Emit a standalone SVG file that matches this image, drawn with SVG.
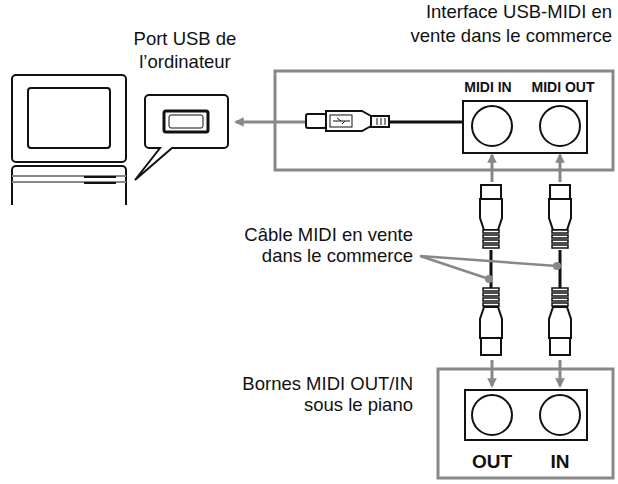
<svg xmlns="http://www.w3.org/2000/svg" width="618" height="484" viewBox="0 0 618 484">
<defs>
<style>
.t{font-family:"Liberation Sans",Arial,sans-serif;font-size:18.5px;fill:#111}
.b{font-family:"Liberation Sans",Arial,sans-serif;font-size:14px;font-weight:bold;fill:#111;text-anchor:middle}
.k{fill:#fff;stroke:#111;stroke-width:2}
.ga{fill:none;stroke:#888;stroke-width:3;marker-end:url(#ah)}
</style>
<marker id="ah" viewBox="0 0 10 10" refX="8" refY="5" markerWidth="3.2" markerHeight="3.2" orient="auto"><path d="M0,0L10,5L0,10z" fill="#888"/></marker>
<g id="rid"><rect x="-8" y="0" width="16" height="3" fill="#fff" stroke="#111" stroke-width="1.5"/></g>
</defs>
<text class="t" x="185" y="45" text-anchor="middle">Port USB de</text>
<text class="t" x="185" y="68" text-anchor="middle">l’ordinateur</text>
<text class="t" x="612" y="18" text-anchor="end">Interface USB-MIDI en</text>
<text class="t" x="612" y="42" text-anchor="end">vente dans le commerce</text>
<text class="t" x="413" y="241" text-anchor="end">Câble MIDI en vente</text>
<text class="t" x="413" y="262" text-anchor="end">dans le commerce</text>
<text class="t" x="413" y="390" text-anchor="end">Bornes MIDI OUT/IN</text>
<text class="t" x="413" y="411" text-anchor="end">sous le piano</text>
<g id="computer">
<rect class="k" x="12" y="75" width="114" height="87" rx="4"/>
<rect class="k" x="28" y="88" width="82" height="60" rx="3"/>
<path class="k" d="M12,205V170a4,4 0 0 1 4,-4H122a4,4 0 0 1 4,4V205"/>
<line x1="12" y1="176" x2="126" y2="176" stroke="#888" stroke-width="2"/>
<line x1="12" y1="182" x2="126" y2="182" stroke="#888" stroke-width="2"/>
<line x1="84" y1="177" x2="116" y2="177" stroke="#111" stroke-width="2"/>
<line x1="84" y1="183" x2="116" y2="183" stroke="#111" stroke-width="2"/>
</g>
<g id="callout">
<path class="k" d="M149,95H224a4,4 0 0 1 4,4V144a4,4 0 0 1 -4,4H172L135,180L160,148H149a4,4 0 0 1 -4,-4V99a4,4 0 0 1 4,-4z"/>
<rect x="164" y="111" width="44" height="21" rx="2" fill="#fff" stroke="#111" stroke-width="3"/>
<rect x="169" y="115" width="34" height="13" rx="2" fill="#fff" stroke="#111" stroke-width="1"/>
</g>
<g id="interface">
<rect x="275" y="71" width="338" height="99" fill="#fff" stroke="#888" stroke-width="3"/>
<rect class="k" x="463" y="101" width="124" height="52"/>
<circle class="k" cx="492" cy="126" r="20"/>
<circle class="k" cx="560" cy="126" r="20"/>
<text class="b" x="488" y="92">MIDI IN</text>
<text class="b" x="563" y="92">MIDI OUT</text>
<line x1="388" y1="122" x2="463" y2="122" stroke="#111" stroke-width="3"/>
<rect class="k" x="306" y="114" width="20" height="14" rx="2" stroke-width="1.5"/>
<path class="k" d="M326,111H362L371,116V126L362,131H326z" stroke-width="1.5"/>
<rect x="330" y="115" width="22" height="12" fill="#fff" stroke="#111" stroke-width="1"/>
<path d="M333,121H350M337,118L341,121M342,124L345,121" stroke="#111" stroke-width="1" fill="none"/>
<rect class="k" x="371" y="116" width="18" height="11" stroke-width="1.5"/>
<path d="M377,118V125M381,118V125M385,118V125" stroke="#111" stroke-width="1"/>
</g>
<g id="piano">
<rect x="438" y="369" width="175" height="109" fill="#fff" stroke="#888" stroke-width="3"/>
<rect class="k" x="465" y="390" width="122" height="50"/>
<circle class="k" cx="492" cy="415" r="20"/>
<circle class="k" cx="560" cy="415" r="20"/>
<text class="b" x="492" y="468" style="font-size:19px">OUT</text>
<text class="b" x="560" y="468" style="font-size:19px">IN</text>
</g>
<g id="cable1">
<line x1="491" y1="250" x2="491" y2="290" stroke="#111" stroke-width="3"/>
<rect class="k" x="481" y="185" width="20" height="14"/>
<path class="k" d="M480,199H502V218L498,230H484L480,218z"/>
<use href="#rid" x="491" y="230"/><use href="#rid" x="491" y="235"/><use href="#rid" x="491" y="240"/><use href="#rid" x="491" y="245"/>
<use href="#rid" x="491" y="288"/><use href="#rid" x="491" y="293"/><use href="#rid" x="491" y="298"/><use href="#rid" x="491" y="303"/>
<path class="k" d="M484,307H498L502,319V338H480V319z"/>
<rect class="k" x="481" y="338" width="20" height="17"/>
</g>
<g id="cable2">
<line x1="560" y1="250" x2="560" y2="290" stroke="#111" stroke-width="3"/>
<rect class="k" x="550" y="185" width="20" height="14"/>
<path class="k" d="M549,199H571V218L567,230H553L549,218z"/>
<use href="#rid" x="560" y="230"/><use href="#rid" x="560" y="235"/><use href="#rid" x="560" y="240"/><use href="#rid" x="560" y="245"/>
<use href="#rid" x="560" y="288"/><use href="#rid" x="560" y="293"/><use href="#rid" x="560" y="298"/><use href="#rid" x="560" y="303"/>
<path class="k" d="M553,307H567L571,319V338H549V319z"/>
<rect class="k" x="550" y="338" width="20" height="17"/>
</g>
<g id="connectors">
<line class="ga" x1="305" y1="122" x2="236" y2="122"/>
<line class="ga" x1="492" y1="182" x2="492" y2="155"/>
<line class="ga" x1="560" y1="182" x2="560" y2="155"/>
<line class="ga" x1="492" y1="360" x2="492" y2="386"/>
<line class="ga" x1="560" y1="360" x2="560" y2="386"/>
<path d="M420,256L489,279M420,256L557,266" stroke="#888" stroke-width="2.5" fill="none"/>
<circle cx="489" cy="279" r="4" fill="#888"/>
<circle cx="557" cy="266" r="4" fill="#888"/>
</g>
</svg>
